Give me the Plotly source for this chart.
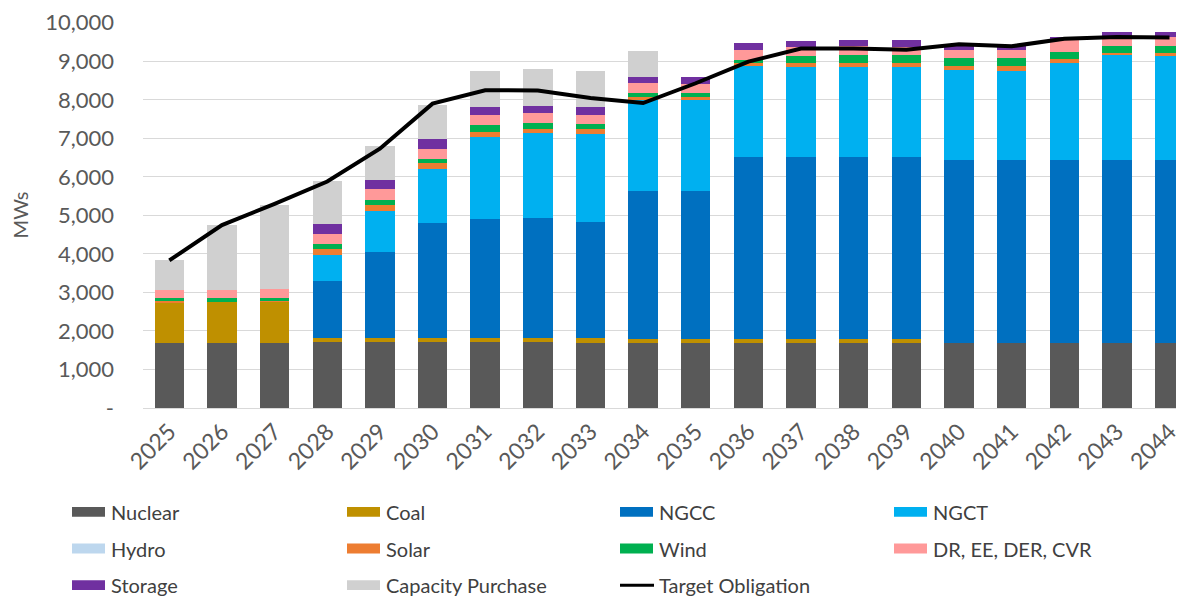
import plotly.graph_objects as go

years = ["2025", "2026", "2027", "2028", "2029", "2030", "2031", "2032", "2033", "2034",
         "2035", "2036", "2037", "2038", "2039", "2040", "2041", "2042", "2043", "2044"]

nuclear = [1700, 1700, 1700, 1720, 1720, 1720, 1720, 1720, 1680, 1700,
           1700, 1700, 1700, 1700, 1690, 1680, 1680, 1680, 1680, 1680]
coal = [1045, 1055, 1060, 90, 90, 90, 90, 90, 150, 90,
        90, 90, 90, 90, 100, 0, 0, 0, 0, 0]
ngcc = [0, 0, 0, 1480, 2250, 2980, 3085, 3110, 3000, 3855,
        3855, 4735, 4735, 4735, 4730, 4755, 4755, 4755, 4755, 4755]
ngct = [0, 0, 0, 690, 1045, 1415, 2150, 2210, 2270, 2340,
        2340, 2345, 2330, 2330, 2340, 2340, 2320, 2530, 2725, 2710]
hydro = [0, 0, 0, 0, 0, 0, 0, 0, 0, 0,
         0, 0, 0, 0, 0, 0, 0, 0, 0, 0]
solar = [30, 0, 20, 145, 155, 155, 120, 120, 130, 100,
         85, 85, 100, 100, 100, 100, 120, 85, 60, 75]
wind = [85, 90, 70, 130, 130, 100, 180, 155, 130, 100,
        105, 85, 170, 200, 200, 200, 200, 200, 170, 170]
dr_ee = [215, 230, 230, 270, 300, 275, 255, 255, 255, 240,
         240, 255, 240, 230, 215, 230, 230, 300, 255, 240]
storage = [0, 0, 0, 260, 230, 240, 215, 190, 190, 170,
           190, 170, 155, 170, 185, 155, 115, 90, 110, 130]
capacity_purchase = [770, 1675, 2190, 1100, 885, 900, 925, 940, 935, 685,
                     0, 0, 0, 0, 0, 0, 0, 0, 0, 0]
target = [3830, 4750, 5300, 5880, 6730, 7900, 8250, 8240, 8045, 7915,
          8430, 8990, 9330, 9330, 9300, 9440, 9390, 9585, 9630, 9620]

y_ticks = [0, 1000, 2000, 3000, 4000, 5000, 6000, 7000, 8000, 9000, 10000]
y_labels = ["-", "1,000", "2,000", "3,000", "4,000", "5,000", "6,000", "7,000", "8,000", "9,000", "10,000"]

series_names = ["Nuclear", "Coal", "NGCC", "NGCT", "Hydro", "Solar", "Wind",
                "DR, EE, DER, CVR", "Storage", "Capacity Purchase"]
series_values = [nuclear, coal, ngcc, ngct, hydro, solar, wind, dr_ee, storage, capacity_purchase]
series_colors = ["#595959", "#bf9000", "#0070c0", "#00b0f0", "#bdd7ee", "#ed7d31",
                 "#00b050", "#ff9999", "#7030a0", "#d0d0d0"]
line_name = "Target Obligation"

FONT = "Lato, 'Open Sans', sans-serif"
fig = go.Figure()

for name, vals, color in zip(series_names, series_values, series_colors):
    fig.add_trace(go.Bar(x=years, y=vals, name=name,
                         marker=dict(color=color, line=dict(width=0)), showlegend=False))

fig.add_trace(go.Scatter(x=years, y=target, name=line_name, mode="lines",
                         line=dict(color="black", width=4), showlegend=False))

# the page body has an 8px margin; lay out in screen pixels and shift
OFF = 8
SCREEN_W, SCREEN_H = 1184, 599
W, H = SCREEN_W - OFF, SCREEN_H - OFF
# plot area in screen pixels: x 143..1184, y 18..408
L = 143 - OFF
T = 18 - OFF
B = SCREEN_H - 408
PW, PH = W - L, H - T - B

def px_x(sx):
    return (sx - OFF - L) / PW

def px_y(sy):
    return (H - B - (sy - OFF)) / PH

# legend laid out like the reference: 4 columns x 3 rows, reading row by row
col_x = [72, 347, 620, 894]
row_y = [513, 550, 587]
entries = list(zip(series_names, series_colors)) + [(line_name, "black")]
shapes, annotations = [], []
for i, (name, color) in enumerate(entries):
    cx = col_x[i % 4]
    cy = row_y[i // 4]
    if name == line_name:
        shapes.append(dict(type="line", xref="paper", yref="paper",
                           x0=px_x(cx), x1=px_x(cx + 34), y0=px_y(cy), y1=px_y(cy),
                           line=dict(color=color, width=3)))
    else:
        shapes.append(dict(type="rect", xref="paper", yref="paper",
                           x0=px_x(cx), x1=px_x(cx + 33), y0=px_y(cy + 5), y1=px_y(cy - 5),
                           fillcolor=color, line=dict(width=0)))
    annotations.append(dict(xref="paper", yref="paper", x=px_x(cx + 37), y=px_y(cy),
                            xanchor="left", yanchor="middle", showarrow=False, text=name,
                            font=dict(family=FONT, size=20, color="#404040")))

fig.update_layout(
    width=W, height=H,
    margin=dict(l=L, r=0, t=T, b=B, pad=0),
    barmode="stack", bargap=0.44,
    plot_bgcolor="white", paper_bgcolor="white",
    font=dict(family=FONT, size=20, color="#595959"),
    showlegend=False,
    shapes=shapes, annotations=annotations,
    xaxis=dict(type="category", range=[-0.5, 19.275], tickangle=-45,
               tickfont=dict(family=FONT, size=23, color="#595959"),
               showline=True, linecolor="#d9d9d9", linewidth=1,
               showgrid=False, ticks="", fixedrange=True),
    yaxis=dict(range=[0, 10020], tickvals=y_ticks, ticktext=y_labels,
               tickfont=dict(family=FONT, size=22, color="#595959"),
               ticklabeloverflow="allow",
               showgrid=True, gridcolor="#d9d9d9", gridwidth=1,
               zeroline=False, showline=False, ticks="",
               ticklabelstandoff=28,
               title=dict(text="MWs", font=dict(family=FONT, size=20, color="#595959"), standoff=14),
               fixedrange=True),
)

fig.write_html("out.html")
